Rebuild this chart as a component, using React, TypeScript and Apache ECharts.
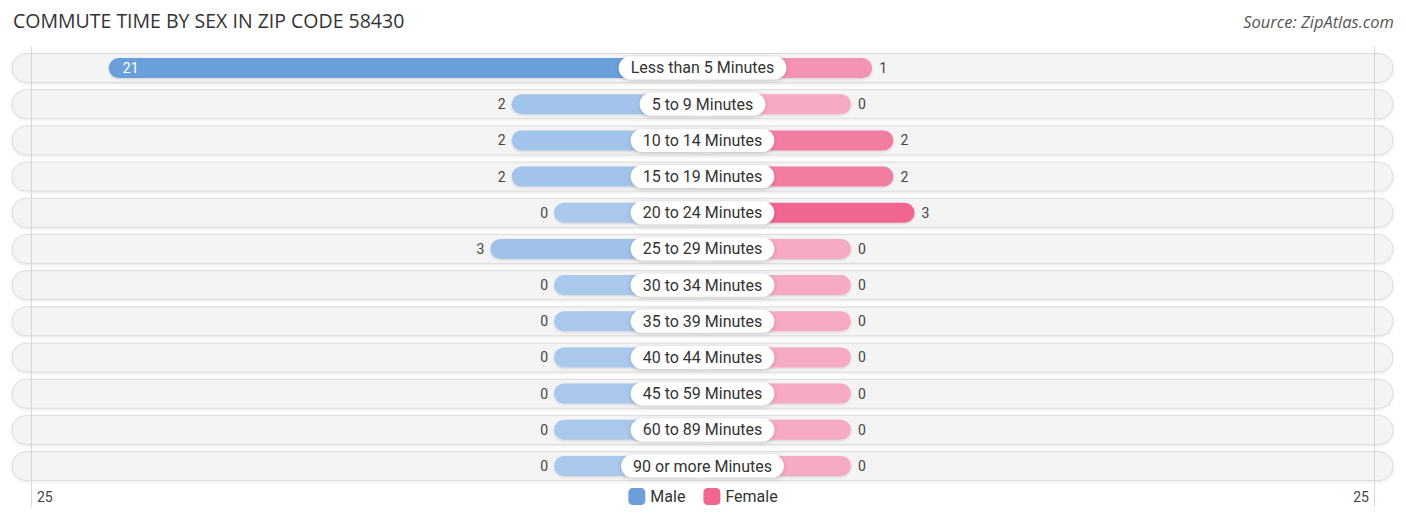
import { useEffect, useRef } from 'react';
import * as echarts from 'echarts';

const categories = [
  'Less than 5 Minutes',
  '5 to 9 Minutes',
  '10 to 14 Minutes',
  '15 to 19 Minutes',
  '20 to 24 Minutes',
  '25 to 29 Minutes',
  '30 to 34 Minutes',
  '35 to 39 Minutes',
  '40 to 44 Minutes',
  '45 to 59 Minutes',
  '60 to 89 Minutes',
  '90 or more Minutes',
];
const maleValues = [21, 2, 2, 2, 0, 3, 0, 0, 0, 0, 0, 0];
const femaleValues = [1, 0, 2, 2, 3, 0, 0, 0, 0, 0, 0, 0];
const axisMax = 25;
const axisTickLabels = ['25'];

const FONT = 'Roboto, "Noto Sans", sans-serif';
const TITLE_FONT = '"Open Sans", Roboto, sans-serif';
const HALF_GAP = 148.5; // distance from the centre to where a zero bar ends
const BAR_H = 20;
const ROW_H = 29;

const MALE_LIGHT = [169, 200, 236];
const MALE_STRONG = [106, 159, 220];
const FEMALE_LIGHT = [247, 170, 196];
const FEMALE_STRONG = [240, 102, 144];

function mix(a: number[], b: number[], t: number) {
  const c = a.map((v, i) => Math.round(v + (b[i] - v) * t));
  return `rgb(${c[0]},${c[1]},${c[2]})`;
}

function barItem(side: 'male' | 'female', values: number[]) {
  const max = Math.max(...values) || 1;
  return (params: any, api: any) => {
    const v = api.value(0);
    const idx = api.value(1);
    const cs = params.coordSys;
    const end = api.coord([v, idx]);
    const cy = end[1];
    const t = v / max;
    const fill =
      side === 'male' ? mix(MALE_LIGHT, MALE_STRONG, t) : mix(FEMALE_LIGHT, FEMALE_STRONG, t);
    const center = side === 'male' ? cs.x + cs.width + HALF_GAP : cs.x - HALF_GAP;
    const x0 = side === 'male' ? end[0] : center;
    const x1 = side === 'male' ? center : end[0];
    const barLen = Math.abs(end[0] - center) - HALF_GAP;
    const inside = barLen > 200;
    let label: any;
    if (side === 'male') {
      label = inside
        ? { x: x0 + 14, align: 'left', fill: '#fff' }
        : { x: x0 - 6, align: 'right', fill: '#444' };
    } else {
      label = inside
        ? { x: x1 - 14, align: 'right', fill: '#fff' }
        : { x: x1 + 7, align: 'left', fill: '#444' };
    }
    return {
      type: 'group',
      children: [
        {
          type: 'rect',
          shape: { x: x0, y: cy - BAR_H / 2, width: x1 - x0, height: BAR_H, r: BAR_H / 2 },
          style: {
            fill,
            shadowBlur: 2,
            shadowOffsetY: 1,
            shadowColor: 'rgba(0,0,0,0.15)',
          },
        },
        {
          type: 'text',
          x: label.x,
          y: cy,
          style: {
            text: String(v),
            align: label.align,
            verticalAlign: 'middle',
            fill: label.fill,
            fontSize: 14,
            fontFamily: FONT,
          },
        },
      ],
    };
  };
}

export default function App() {
  const chartRef = useRef<HTMLDivElement>(null);

  useEffect(() => {
    if (!chartRef.current) return;
    const chart = echarts.init(chartRef.current, undefined, { renderer: 'svg' });

    const rowAxisMin = -0.58;
    const rowAxisMax = 12.13;

    const edgeAxis = (position: 'left' | 'right') => ({
      type: 'value' as const,
      gridIndex: 2,
      position,
      min: rowAxisMin,
      max: rowAxisMax,
      inverse: true,
      z: 5,
      axisLine: { show: true, onZero: false, lineStyle: { color: '#d6d6d6', width: 1 } },
      axisTick: { show: false },
      axisLabel: { show: false },
      splitLine: { show: false },
    });

    const option: echarts.EChartsOption = {
      animation: false,
      backgroundColor: '#fff',
      title: [
        {
          text: 'COMMUTE TIME BY SEX IN ZIP CODE 58430',
          left: 8,
          top: 5,
          textStyle: { fontSize: 19.5, fontWeight: 'normal', color: '#333', fontFamily: TITLE_FONT },
        },
        {
          text: 'Source: ZipAtlas.com',
          right: 7,
          top: 8,
          textStyle: {
            fontSize: 16.5,
            fontWeight: 'normal',
            fontStyle: 'italic',
            color: '#555',
            fontFamily: TITLE_FONT,
          },
        },
      ],
      legend: {
        data: ['Male', 'Female'],
        left: 'center',
        top: 483,
        icon: 'roundRect',
        itemWidth: 17,
        itemHeight: 17,
        itemGap: 18,
        textStyle: { fontSize: 16, color: '#333', fontFamily: FONT },
      },
      grid: [
        { left: 24, width: 530, top: 50, height: 434 },
        { left: 851, width: 530, top: 50, height: 434 },
        { left: 31, width: 1343, top: 47, height: 460 },
      ],
      xAxis: [
        {
          type: 'value',
          gridIndex: 0,
          inverse: true,
          min: 0,
          max: axisMax,
          interval: axisMax,
          axisLine: { show: false },
          axisTick: { show: false },
          splitLine: { show: false },
          axisLabel: {
            margin: 6,
            align: 'left',
            padding: [0, 0, 0, 13],
            color: '#444',
            fontSize: 14,
            fontFamily: FONT,
            formatter: (v: number) => (v === axisMax ? axisTickLabels[0] : ''),
          },
        },
        {
          type: 'value',
          gridIndex: 1,
          min: 0,
          max: axisMax,
          interval: axisMax,
          axisLine: { show: false },
          axisTick: { show: false },
          splitLine: { show: false },
          axisLabel: {
            margin: 6,
            align: 'right',
            padding: [0, 12, 0, 0],
            color: '#444',
            fontSize: 14,
            fontFamily: FONT,
            formatter: (v: number) => (v === axisMax ? axisTickLabels[0] : ''),
          },
        },
        { type: 'value', gridIndex: 2, min: -1, max: 1, show: false },
      ],
      yAxis: [
        {
          type: 'category',
          gridIndex: 0,
          data: categories,
          inverse: true,
          show: false,
        },
        {
          type: 'category',
          gridIndex: 1,
          data: categories,
          inverse: true,
          show: false,
        },
        edgeAxis('left'),
        edgeAxis('right'),
      ],
      series: [
        {
          type: 'custom',
          name: 'rows',
          xAxisIndex: 2,
          yAxisIndex: 2,
          z: 1,
          silent: true,
          data: categories.map((_, i) => [0, i]),
          renderItem: (params: any, api: any) => {
            const cs = params.coordSys;
            const cy = api.coord([0, api.value(1)])[1];
            return {
              type: 'rect',
              shape: {
                x: cs.x - 19,
                y: cy - ROW_H / 2,
                width: cs.width + 38,
                height: ROW_H,
                r: ROW_H / 2,
              },
              style: {
                fill: '#f4f4f4',
                stroke: '#dcdcdc',
                lineWidth: 1,
                shadowBlur: 3,
                shadowOffsetY: 1,
                shadowColor: 'rgba(0,0,0,0.10)',
              },
            };
          },
        },
        {
          type: 'custom',
          name: 'Male',
          xAxisIndex: 0,
          yAxisIndex: 0,
          z: 2,
          itemStyle: { color: '#6a9fdc' },
          data: maleValues.map((v, i) => [v, i]),
          renderItem: barItem('male', maleValues) as any,
        },
        {
          type: 'custom',
          name: 'Female',
          xAxisIndex: 1,
          yAxisIndex: 1,
          z: 2,
          itemStyle: { color: '#f06690' },
          data: femaleValues.map((v, i) => [v, i]),
          renderItem: barItem('female', femaleValues) as any,
        },
        {
          type: 'custom',
          name: 'labels',
          xAxisIndex: 2,
          yAxisIndex: 2,
          z: 3,
          silent: true,
          data: categories.map((_, i) => [0, i]),
          renderItem: (params: any, api: any) => {
            const idx = api.value(1);
            const p = api.coord([0, idx]);
            return {
              type: 'text',
              x: p[0],
              y: p[1],
              style: {
                text: categories[idx],
                align: 'center',
                verticalAlign: 'middle',
                fill: '#333',
                fontSize: 16,
                fontFamily: FONT,
                lineHeight: 17,
                backgroundColor: '#fff',
                padding: [3, 12],
                borderRadius: 12,
                shadowBlur: 4,
                shadowOffsetY: 1,
                shadowColor: 'rgba(0,0,0,0.2)',
              },
            };
          },
        },
      ],
    };

    chart.setOption(option);
    return () => chart.dispose();
  }, []);

  return (
    <div
      ref={chartRef}
      style={{ position: 'absolute', left: 0, top: 0, width: 1406, height: 522 }}
    />
  );
}
